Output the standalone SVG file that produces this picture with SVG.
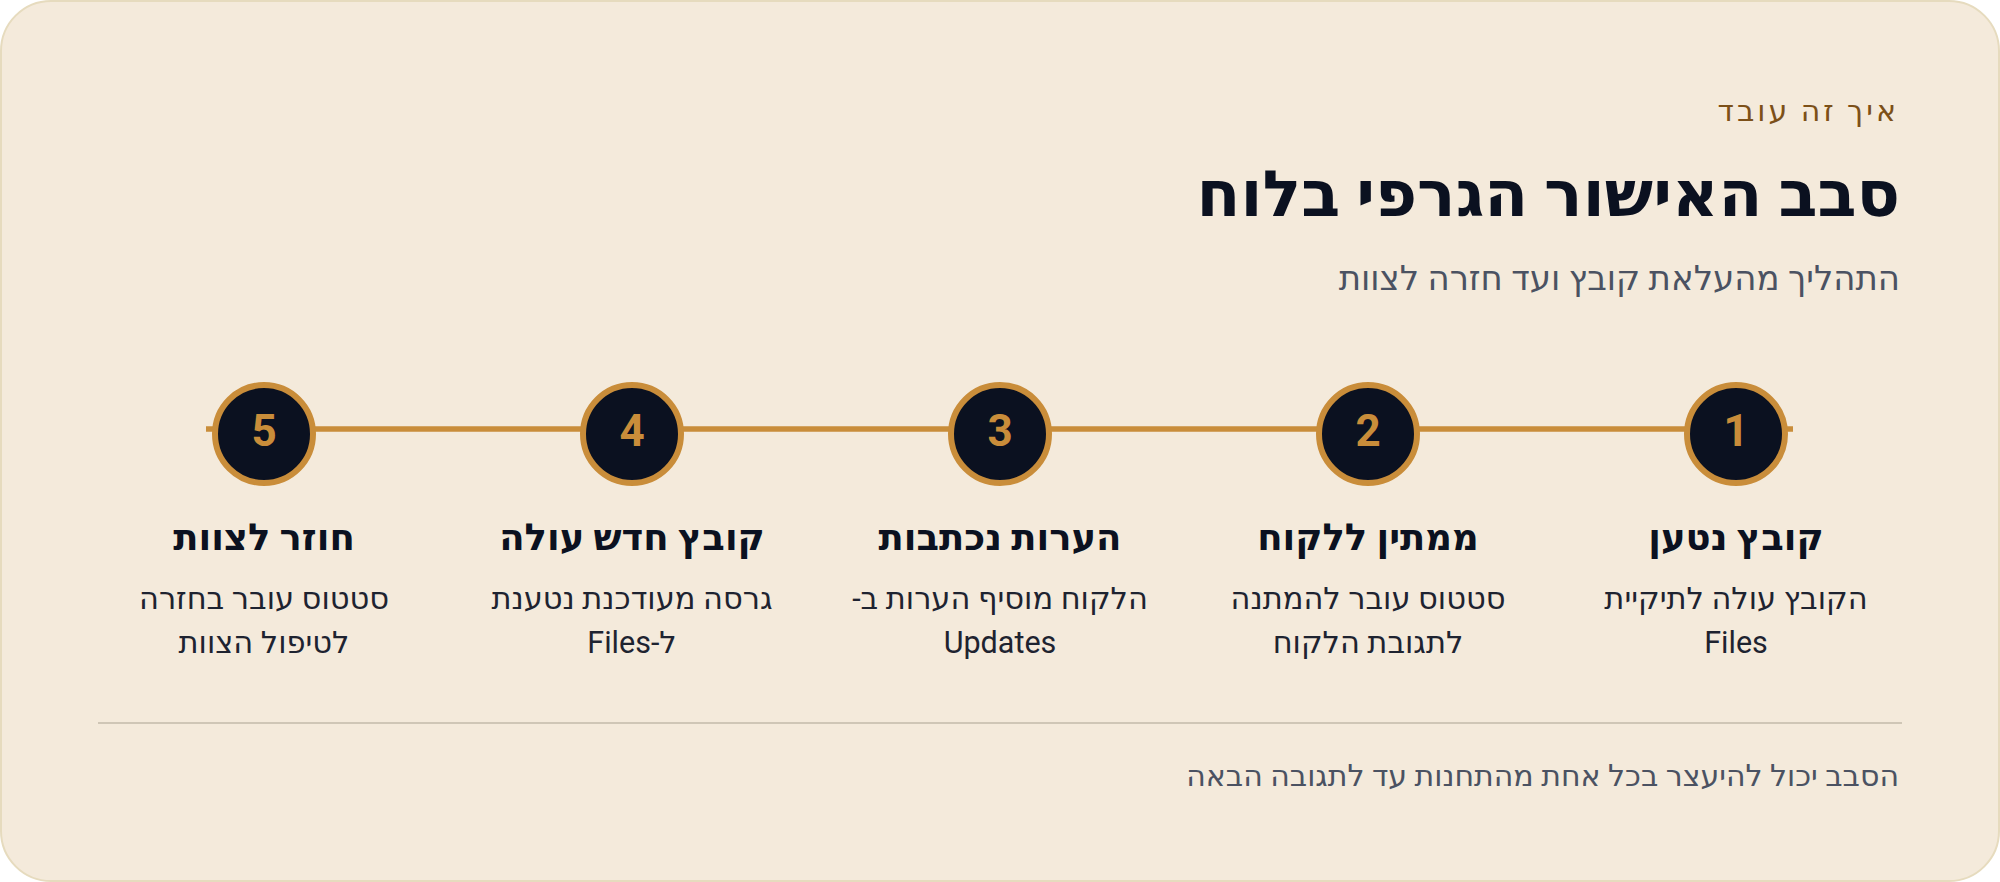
<svg xmlns="http://www.w3.org/2000/svg" width="2000" height="882" viewBox="0 0 2000 882">
<style>
text{font-family:Roboto,"Noto Sans","DejaVu Sans",sans-serif;direction:rtl}
.eyebrow{font-size:30px;fill:#7C5018;letter-spacing:3px}
.h1{font-size:64px;font-weight:700;fill:#0B1120}
.lead{font-size:34px;fill:#4B5262}
.num{font-size:44px;font-weight:700;fill:#C98D3A;text-anchor:middle;direction:ltr}
.st{font-size:37px;font-weight:700;fill:#0B1120;text-anchor:middle}
.sd{font-size:30.5px;fill:#1E2330;text-anchor:middle}
.foot{font-size:30px;fill:#4B5262}
.dot{fill:#0B1120;stroke:#C98D3A;stroke-width:6}
</style>
<rect x="1" y="1" width="1998" height="880" rx="50" fill="#F4EADB" stroke="#E6DBBE" stroke-width="2"/>
<g id="header">
<text class="eyebrow" x="1899" y="121" text-anchor="start">איך זה עובד</text>
<text class="h1" x="1900" y="216" text-anchor="start">סבב האישור הגרפי בלוח</text>
<text class="lead" x="1900" y="290" text-anchor="start">התהליך מהעלאת קובץ ועד חזרה לצוות</text>
</g>
<g id="connectors">
<line x1="206" y1="429" x2="1793" y2="429" stroke="#C98D3A" stroke-width="5.5"/>
</g>
<g id="step1">
<circle class="dot" cx="1736" cy="434" r="49"/>
<text class="num" x="1736" y="446">1</text>
<text class="st" x="1736" y="550">קובץ נטען</text>
<text class="sd" x="1736" y="609">הקובץ עולה לתיקיית</text>
<text class="sd" x="1736" y="653">Files</text>
</g>
<g id="step2">
<circle class="dot" cx="1368" cy="434" r="49"/>
<text class="num" x="1368" y="446">2</text>
<text class="st" x="1368" y="550">ממתין ללקוח</text>
<text class="sd" x="1368" y="609">סטטוס עובר להמתנה</text>
<text class="sd" x="1368" y="653">לתגובת הלקוח</text>
</g>
<g id="step3">
<circle class="dot" cx="1000" cy="434" r="49"/>
<text class="num" x="1000" y="446">3</text>
<text class="st" x="1000" y="550">הערות נכתבות</text>
<text class="sd" x="1000" y="609">הלקוח מוסיף הערות ב-</text>
<text class="sd" x="1000" y="653">Updates</text>
</g>
<g id="step4">
<circle class="dot" cx="632" cy="434" r="49"/>
<text class="num" x="632" y="446">4</text>
<text class="st" x="632" y="550">קובץ חדש עולה</text>
<text class="sd" x="632" y="609">גרסה מעודכנת נטענת</text>
<text class="sd" x="632" y="653">ל-Files</text>
</g>
<g id="step5">
<circle class="dot" cx="264" cy="434" r="49"/>
<text class="num" x="264" y="446">5</text>
<text class="st" x="264" y="550">חוזר לצוות</text>
<text class="sd" x="264" y="609">סטטוס עובר בחזרה</text>
<text class="sd" x="264" y="653">לטיפול הצוות</text>
</g>
<g id="footer">
<line x1="98" y1="723" x2="1902" y2="723" stroke="#CFC6B6" stroke-width="2"/>
<text class="foot" x="1899" y="786" text-anchor="start">הסבב יכול להיעצר בכל אחת מהתחנות עד לתגובה הבאה</text>
</g>
</svg>
